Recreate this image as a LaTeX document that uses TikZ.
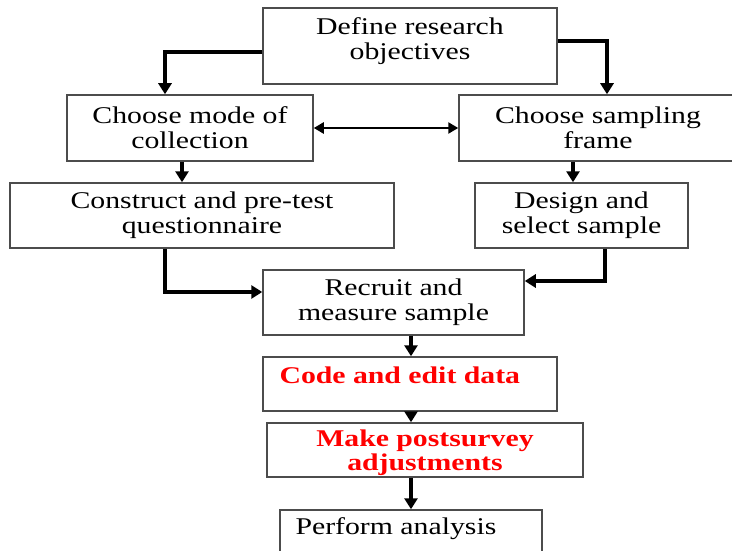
\documentclass[tikz,border=0pt]{standalone}
\usepackage{fontspec}
\setmainfont{Liberation Serif}[FakeStretch=1.24]
\usetikzlibrary{arrows.meta}

\begin{document}
\begin{tikzpicture}[
  x=1pt, y=-1pt,
  every node/.style={font=\fontsize{24}{25}\selectfont, align=center},
  box/.style={draw=black!70, line width=1.5pt, inner sep=0pt},
  redtext/.style={text=red, font=\fontsize{24}{24}\selectfont\bfseries},
  arr/.style={line width=3.6pt, -{Triangle[length=11pt, width=13pt]}},
  twoway/.style={line width=2.6pt, {Triangle[length=10pt, width=11pt]}-{Triangle[length=10pt, width=11pt]}}
]
\useasboundingbox (0,0) rectangle (732,551);

\node[box, minimum width=294pt, minimum height=76pt, text depth=14pt] (obj) at (410,46) {Define research\\objectives};
\node[box, minimum width=246pt, minimum height=66pt] (mode) at (190,128) {Choose mode of\\collection};
\node[box, minimum width=278pt, minimum height=66pt] (frame) at (598,128) {Choose sampling\\frame};
\node[box, minimum width=384pt, minimum height=65pt] (quest) at (202,215.5) {Construct and pre-test\\questionnaire};
\node[box, minimum width=213pt, minimum height=65pt] (design) at (581.5,215.5) {Design and\\select sample};
\node[box, minimum width=261pt, minimum height=65pt] (recruit) at (393.5,302.5) {Recruit and\\measure sample};
\node[box, minimum width=294pt, minimum height=54pt] (code) at (410,384) {};
\node[redtext, anchor=base west] (codetxt) at (276,383) {Code and edit data};
\node[box, redtext, minimum width=316pt, minimum height=54pt, text depth=0pt] (adjust) at (425,450) {Make postsurvey\\adjustments};
\node[box, minimum width=262pt, minimum height=54pt] (analysis) at (411,537) {};
\node[anchor=base west] (analysistxt) at (292,534) {Perform analysis};

\draw[arr] ([yshift=-6pt]obj.west) -| ([xshift=-25pt]mode.north);
\draw[arr] ([yshift=5pt]obj.east) -| ([xshift=9pt]frame.north);
\draw[twoway] (mode) -- (frame);
\draw[arr] ([xshift=-8pt]mode.south) -- ([xshift=-8pt]mode.south |- quest.north);
\draw[arr] ([xshift=-25pt]frame.south) -- ([xshift=-25pt]frame.south |- design.north);
\draw[arr] ([xshift=-37pt]quest.south) |- ([yshift=10.5pt]recruit.west);
\draw[arr] ([xshift=23.5pt]design.south) |- ([yshift=21.5pt]recruit.east);
\draw[arr] ([xshift=17.5pt]recruit.south) -- ([xshift=17.5pt]recruit.south |- code.north);
\draw[arr] ([xshift=1pt]code.south) -- ([xshift=1pt]code.south |- adjust.north);
\draw[arr] ([xshift=-14pt]adjust.south) -- ([xshift=-14pt]adjust.south |- analysis.north);
\end{tikzpicture}
\end{document}
